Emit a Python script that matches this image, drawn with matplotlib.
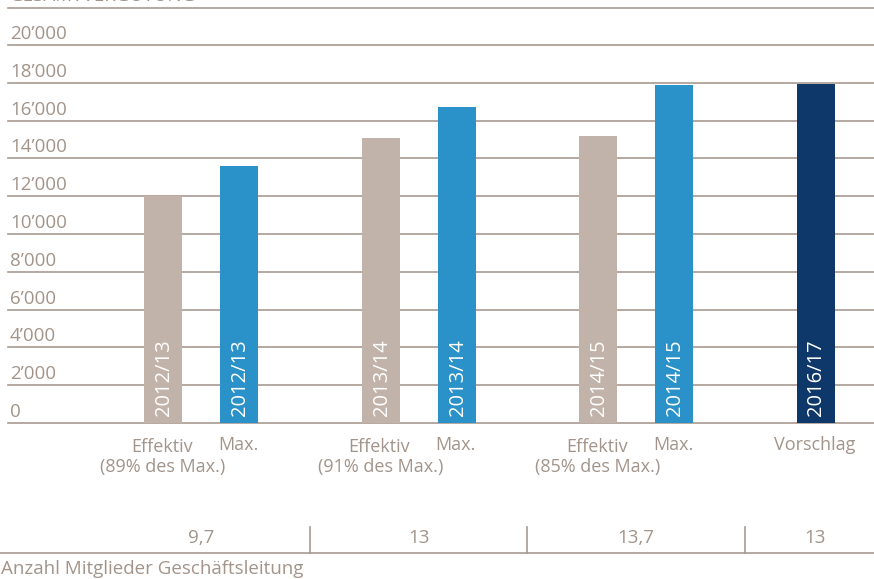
import numpy as np
import matplotlib.pyplot as plt

plt.rcParams['font.family'] = ['Open Sans', 'DejaVu Sans']

# data
seasons = ['2012/13', '2012/13', '2013/14', '2013/14', '2014/15', '2014/15', '2016/17']
values = [12000, 13600, 15100, 16700, 15200, 17900, 17950]
kinds = ['eff', 'max', 'eff', 'max', 'eff', 'max', 'prop']
groups = [0, 0, 1, 1, 2, 2, 3]
slot = [0, 1, 0, 1, 0, 1, 0]
cat_labels = ['Effektiv', 'Max.', 'Effektiv', 'Max.', 'Effektiv', 'Max.', 'Vorschlag']
cat_notes = ['(89% des Max.)', '', '(91% des Max.)', '', '(85% des Max.)', '', '']
members = ['9,7', '13', '13,7', '13']
yticks = [0, 2000, 4000, 6000, 8000, 10000, 12000, 14000, 16000, 18000, 20000]
ytick_labels = ['0', '2\u2019000', '4\u2019000', '6\u2019000', '8\u2019000', '10\u2019000',
                '12\u2019000', '14\u2019000', '16\u2019000', '18\u2019000', '20\u2019000']

colors = {'eff': '#c2b3aa', 'max': '#2a92c8', 'prop': '#0e376a'}
txt = '#a2948a'
grid = '#a89a90'
fs = 13.5

W, H = 874, 579
fig = plt.figure(figsize=(W / 100, H / 100), dpi=100)
ax = fig.add_axes([0, 0, 1, 1])
ax.set_axis_off()

# pixel based x, value based y (0 at px 423, 2000 per 37.8 px)
y0px = 423.0
per_px = 2000 / 37.8
ax.set_xlim(0, W)
ax.set_ylim(-(H - y0px) * per_px, y0px * per_px)


def py(p):
    # figure pixel row -> data y
    return (y0px - p) * per_px


gstep = 217.5
bstep = 76
x = [163 + g * gstep + s * bstep for g, s in zip(groups, slot)]
bw = 38

# gridlines
for t, lab in zip(yticks, ytick_labels):
    ax.plot([8, W], [t, t], color=grid, lw=1.2, zorder=1)
    ax.text(10, t + 2 * per_px, lab, color=txt, fontsize=fs, ha='left', va='bottom')
top_line = py(7.5)
ax.plot([8, W], [top_line, top_line], color=grid, lw=1.2, zorder=1)
ax.text(10, py(5), 'GESAMTVERGÜTUNG', color=txt, fontsize=fs, ha='left', va='bottom')

# bars
ax.bar(x, values, width=bw, color=[colors[k] for k in kinds], zorder=2)
for xi, s in zip(x, seasons):
    ax.text(xi + 1, 7 * per_px, s, rotation=90, color='white', fontsize=14.5,
            ha='center', va='bottom', zorder=3)

# category labels
for xi, lab, note in zip(x, cat_labels, cat_notes):
    dy = 0 if note else -2
    ax.text(xi - 1, py(447 + dy), lab, color=txt, fontsize=13, ha='center', va='center')
    if note:
        ax.text(xi, py(467), note, color=txt, fontsize=13, ha='center', va='center')

# lower table
ytab = py(553)
ax.plot([0, W], [ytab, ytab], color=grid, lw=1.2)
for sx in [310, 527, 745]:
    ax.plot([sx, sx], [ytab, py(527)], color=grid, lw=1.2)
mx = [201, 418.5, 636, 815]
for xi, m in zip(mx, members):
    ax.text(xi, py(538), m, color=txt, fontsize=fs, ha='center', va='center')
ax.text(1, py(569), 'Anzahl Mitglieder Geschäftsleitung', color=txt,
        fontsize=fs, ha='left', va='center')

fig.savefig('out.png', dpi=100)
